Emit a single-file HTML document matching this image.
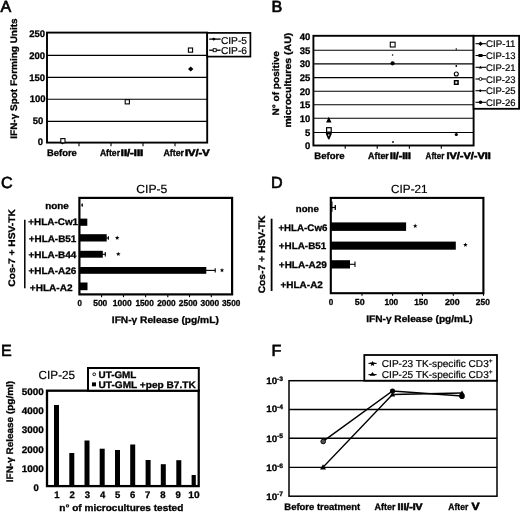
<!DOCTYPE html>
<html>
<head>
<meta charset="utf-8">
<title>Figure</title>
<style>
  html, body { margin: 0; padding: 0; background: #ffffff; }
  body { width: 520px; height: 513px; overflow: hidden; font-family: "Liberation Sans", sans-serif; }
  svg { will-change: transform; display: block; font-family: "Liberation Sans", sans-serif; text-rendering: geometricPrecision; }
  text { fill: #000; }
  .b { font-weight: bold; stroke: #000; stroke-width: 0.3px; }
  .r { stroke: #000; stroke-width: 0.2px; }
  .bs { font-weight: bold; }
  .bx { font-weight: bold; stroke: #000; stroke-width: 0.6px; }
  .pl { stroke: #000; stroke-width: 0.65px; }
</style>
</head>
<body>
<svg width="520" height="513" viewBox="0 0 520 513">
<rect x="0" y="0" width="520" height="513" fill="#fff"/>

<g id="pA">
<text class="pl" x="0.5" y="12.4" font-size="16.1">A</text>
<line x1="47" y1="55.4" x2="207" y2="55.4" stroke="#000" stroke-width="1.1"/>
<line x1="47" y1="77.4" x2="207" y2="77.4" stroke="#000" stroke-width="1.1"/>
<line x1="47" y1="99.3" x2="207" y2="99.3" stroke="#000" stroke-width="1.1"/>
<line x1="47" y1="121.4" x2="207" y2="121.4" stroke="#000" stroke-width="1.1"/>
<rect x="47" y="32.6" width="160.2" height="110.0" fill="none" stroke="#000" stroke-width="1.9"/>
<line x1="79" y1="143" x2="79" y2="146.2" stroke="#000" stroke-width="1.1"/>
<line x1="111" y1="143" x2="111" y2="146.2" stroke="#000" stroke-width="1.1"/>
<line x1="143" y1="143" x2="143" y2="146.2" stroke="#000" stroke-width="1.1"/>
<line x1="175" y1="143" x2="175" y2="146.2" stroke="#000" stroke-width="1.1"/>
<text class="b" x="45.10" y="36.80" font-size="9.5" text-anchor="end">250</text>
<text class="b" x="45.10" y="58.80" font-size="9.5" text-anchor="end">200</text>
<text class="b" x="45.10" y="80.80" font-size="9.5" text-anchor="end">150</text>
<text class="b" x="45.50" y="102.10" font-size="9.5" text-anchor="end">100</text>
<text class="b" x="43.40" y="124.10" font-size="9.5" text-anchor="end">50</text>
<text class="b" x="43.10" y="145.10" font-size="9.5" text-anchor="end">0</text>
<text class="b" font-size="9.5" textLength="120.30" lengthAdjust="spacingAndGlyphs" transform="translate(17.00,138.70) rotate(-90)">IFN-γ Spot Forming Units</text>
<text class="b" x="47.00" y="156.00" font-size="9.5" textLength="29.80" lengthAdjust="spacingAndGlyphs">Before</text>
<text class="b" x="99.90" y="156.00" font-size="9.5" textLength="20.10" lengthAdjust="spacingAndGlyphs">After</text>
<text class="bx" x="120.80" y="156.00" font-size="9.5" textLength="22.30" lengthAdjust="spacingAndGlyphs">II/-III</text>
<text class="b" x="163.40" y="156.00" font-size="9.5" textLength="20.60" lengthAdjust="spacingAndGlyphs">After</text>
<text class="bx" x="185.00" y="156.00" font-size="9.5" textLength="24.70" lengthAdjust="spacingAndGlyphs">IV/-V</text>
<path d="M62.5 139.8 l2.5 2.3 l-2.5 2.3 l-2.5 -2.3z" fill="#000"/>
<path d="M190.7 66.6 l2.7 2.5 l-2.7 2.5 l-2.7 -2.5z" fill="#000"/>
<rect x="60.8" y="138.6" width="4.2" height="4.2" fill="#fff" stroke="#000" stroke-width="1.1"/>
<rect x="125.2" y="99.7" width="4.2" height="4.2" fill="#fff" stroke="#000" stroke-width="1.1"/>
<rect x="188.4" y="48" width="4.2" height="4.2" fill="#fff" stroke="#000" stroke-width="1.1"/>
<rect x="207.2" y="32.9" width="43.2" height="23.7" fill="#fff" stroke="#000" stroke-width="1.7"/>
<line x1="209.2" y1="39.1" x2="220.6" y2="39.1" stroke="#000" stroke-width="1.3"/>
<path d="M213.8 37.4 l1.9 1.7 l-1.9 1.7 l-1.9 -1.7z" fill="#000"/>
<line x1="209.2" y1="50.2" x2="220.6" y2="50.2" stroke="#000" stroke-width="1.3"/>
<rect x="213.2" y="48.7" width="3" height="3" fill="#fff" stroke="#000" stroke-width="0.9"/>
<text class="r" x="220.90" y="43.80" font-size="10" textLength="26.10" lengthAdjust="spacingAndGlyphs">CIP-5</text>
<text class="r" x="220.90" y="54.10" font-size="10" textLength="26.10" lengthAdjust="spacingAndGlyphs">CIP-6</text>
</g>
<g id="pB">
<text class="pl" x="271.6" y="12.3" font-size="16.1">B</text>
<line x1="313.4" y1="50.2" x2="473.5" y2="50.2" stroke="#000" stroke-width="1.1"/>
<line x1="313.4" y1="63.9" x2="473.5" y2="63.9" stroke="#000" stroke-width="1.1"/>
<line x1="313.4" y1="77.6" x2="473.5" y2="77.6" stroke="#000" stroke-width="1.1"/>
<line x1="313.4" y1="91.2" x2="473.5" y2="91.2" stroke="#000" stroke-width="1.1"/>
<line x1="313.4" y1="104.8" x2="473.5" y2="104.8" stroke="#000" stroke-width="1.1"/>
<line x1="313.4" y1="118.3" x2="473.5" y2="118.3" stroke="#000" stroke-width="1.1"/>
<line x1="313.4" y1="132.5" x2="473.5" y2="132.5" stroke="#000" stroke-width="1.1"/>
<rect x="313.4" y="35.8" width="160.2" height="109.7" fill="none" stroke="#000" stroke-width="1.9"/>
<line x1="345.2" y1="145.5" x2="345.2" y2="148.7" stroke="#000" stroke-width="1.1"/>
<line x1="377.2" y1="145.5" x2="377.2" y2="148.7" stroke="#000" stroke-width="1.1"/>
<line x1="409.4" y1="145.5" x2="409.4" y2="148.7" stroke="#000" stroke-width="1.1"/>
<line x1="441.3" y1="145.5" x2="441.3" y2="148.7" stroke="#000" stroke-width="1.1"/>
<text class="b" x="310.40" y="40.00" font-size="9.5" text-anchor="end">40</text>
<text class="b" x="310.40" y="53.80" font-size="9.5" text-anchor="end">35</text>
<text class="b" x="310.40" y="67.30" font-size="9.5" text-anchor="end">30</text>
<text class="b" x="310.40" y="81.20" font-size="9.5" text-anchor="end">25</text>
<text class="b" x="310.40" y="94.70" font-size="9.5" text-anchor="end">20</text>
<text class="b" x="310.40" y="108.30" font-size="9.5" text-anchor="end">15</text>
<text class="b" x="310.40" y="121.80" font-size="9.5" text-anchor="end">10</text>
<text class="b" x="310.40" y="135.70" font-size="9.5" text-anchor="end">5</text>
<text class="b" x="310.40" y="149.20" font-size="9.5" text-anchor="end">0</text>
<text class="b" font-size="9.5" textLength="64.40" lengthAdjust="spacingAndGlyphs" transform="translate(278.60,115.50) rotate(-90)">N° of positive</text>
<text class="b" font-size="9.5" textLength="94.90" lengthAdjust="spacingAndGlyphs" transform="translate(291.30,127.60) rotate(-90)">microcultures (AU)</text>
<text class="b" x="314.30" y="159.40" font-size="9.5" textLength="30.30" lengthAdjust="spacingAndGlyphs">Before</text>
<text class="b" x="368.10" y="158.60" font-size="9.5" textLength="20.70" lengthAdjust="spacingAndGlyphs">After</text>
<text class="bx" x="390.10" y="158.60" font-size="9.5" textLength="20.70" lengthAdjust="spacingAndGlyphs">II/-III</text>
<text class="b" x="425.60" y="159.20" font-size="9.5" textLength="18.80" lengthAdjust="spacingAndGlyphs">After</text>
<text class="bx" x="446.40" y="159.20" font-size="9.5" textLength="44.40" lengthAdjust="spacingAndGlyphs">IV/-V/-VII</text>
<path d="M328.8 116.8 l2.7 5.6 h-5.4z" fill="#000"/>
<path d="M328.8 138.6 l-2.2 -5 h4.4z" fill="#fff" stroke="#000" stroke-width="1.6" stroke-linejoin="round"/>
<rect x="326.6" y="127.7" width="4.6" height="4.4" fill="#fff" stroke="#000" stroke-width="1.2"/>
<rect x="390.3" y="42.2" width="4.8" height="4.8" fill="#fff" stroke="#000" stroke-width="1.1"/>
<circle cx="392.6" cy="55" r="0.8" fill="#000"/>
<circle cx="392.6" cy="63.3" r="2.1" fill="#000"/>
<circle cx="393" cy="142" r="0.9" fill="#000"/>
<circle cx="456.3" cy="49" r="0.8" fill="#000"/>
<circle cx="456.3" cy="66" r="0.9" fill="#000"/>
<circle cx="456.3" cy="74" r="2" fill="#fff" stroke="#000" stroke-width="1.1"/>
<rect x="453.8" y="80" width="5" height="5" fill="#000"/>
<rect x="455.3" y="81.5" width="2" height="2" fill="#fff"/>
<circle cx="456.3" cy="134.5" r="1.6" fill="#000"/>
<rect x="473.6" y="35.8" width="45.5" height="73.0" fill="#fff" stroke="#000" stroke-width="1.8"/>
<line x1="475.5" y1="43.7" x2="486" y2="43.7" stroke="#000" stroke-width="1.1"/>
<line x1="475.5" y1="55.5" x2="486" y2="55.5" stroke="#000" stroke-width="1.1"/>
<line x1="475.5" y1="67.3" x2="486" y2="67.3" stroke="#000" stroke-width="1.1"/>
<line x1="475.5" y1="79" x2="486" y2="79" stroke="#000" stroke-width="1.1"/>
<line x1="475.5" y1="90.7" x2="486" y2="90.7" stroke="#000" stroke-width="1.1"/>
<line x1="475.5" y1="102.3" x2="486" y2="102.3" stroke="#000" stroke-width="1.1"/>
<path d="M480.5 41.5 l2.3 2.2 l-2.3 2.2 l-2.3 -2.2z" fill="#000"/>
<rect x="478.5" y="54" width="4" height="3" fill="#000"/>
<path d="M480.5 65.8 l1.6 2.6 h-3.2z" fill="#000"/>
<circle cx="480.5" cy="79" r="1.5" fill="#fff" stroke="#000" stroke-width="0.9"/>
<rect x="479.5" y="89.5" width="1.6" height="2.4" fill="#000"/>
<circle cx="480.5" cy="102.3" r="1.8" fill="#000"/>
<text class="r" x="486.00" y="47.20" font-size="9.6" textLength="29.50" lengthAdjust="spacingAndGlyphs">CIP-11</text>
<text class="r" x="486.00" y="59.00" font-size="9.6" textLength="29.50" lengthAdjust="spacingAndGlyphs">CIP-13</text>
<text class="r" x="486.00" y="70.80" font-size="9.6" textLength="29.50" lengthAdjust="spacingAndGlyphs">CIP-21</text>
<text class="r" x="486.00" y="82.50" font-size="9.6" textLength="29.50" lengthAdjust="spacingAndGlyphs">CIP-23</text>
<text class="r" x="486.00" y="94.20" font-size="9.6" textLength="29.50" lengthAdjust="spacingAndGlyphs">CIP-25</text>
<text class="r" x="486.00" y="105.80" font-size="9.6" textLength="29.50" lengthAdjust="spacingAndGlyphs">CIP-26</text>
</g>
<g id="pC">
<text class="pl" x="0.9" y="187.7" font-size="16.1">C</text>
<text class="r" x="136.20" y="193.40" font-size="11.8" textLength="31.20" lengthAdjust="spacingAndGlyphs">CIP-5</text>
<rect x="79.4" y="197.9" width="152.7" height="96.5" fill="none" stroke="#000" stroke-width="2.2"/>
<rect x="80" y="218.6" width="7.3" height="7.2" fill="#000"/>
<rect x="80" y="234.2" width="26.7" height="7.3" fill="#000"/>
<rect x="80" y="250.8" width="22.8" height="6.9" fill="#000"/>
<rect x="80" y="267.0" width="126.3" height="6.8" fill="#000"/>
<rect x="80" y="282.5" width="7.5" height="7.7" fill="#000"/>
<line x1="81" y1="205" x2="82.5" y2="205" stroke="#000" stroke-width="1.1"/>
<line x1="82.3" y1="203.5" x2="82.3" y2="206.8" stroke="#000" stroke-width="1.1"/>
<line x1="106" y1="238" x2="108.6" y2="238" stroke="#000" stroke-width="1.1"/>
<line x1="108.4" y1="236.2" x2="108.4" y2="239.8" stroke="#000" stroke-width="1.1"/>
<line x1="102" y1="254.3" x2="105.5" y2="254.3" stroke="#000" stroke-width="1.1"/>
<line x1="105.3" y1="252" x2="105.3" y2="256.6" stroke="#000" stroke-width="1.1"/>
<line x1="206" y1="270.4" x2="215.4" y2="270.4" stroke="#000" stroke-width="1.1"/>
<line x1="215.2" y1="268.2" x2="215.2" y2="272.4" stroke="#000" stroke-width="1.1"/>
<polygon points="117.20,235.50 117.79,237.09 119.48,237.16 118.15,238.21 118.61,239.84 117.20,238.90 115.79,239.84 116.25,238.21 114.92,237.16 116.61,237.09" fill="#000"/>
<polygon points="118.30,251.70 118.89,253.29 120.58,253.36 119.25,254.41 119.71,256.04 118.30,255.10 116.89,256.04 117.35,254.41 116.02,253.36 117.71,253.29" fill="#000"/>
<polygon points="222.00,267.90 222.59,269.49 224.28,269.56 222.95,270.61 223.41,272.24 222.00,271.30 220.59,272.24 221.05,270.61 219.72,269.56 221.41,269.49" fill="#000"/>
<line x1="101.6" y1="294.5" x2="101.6" y2="297.2" stroke="#000" stroke-width="1.1"/>
<line x1="123.5" y1="294.5" x2="123.5" y2="297.2" stroke="#000" stroke-width="1.1"/>
<line x1="145.6" y1="294.5" x2="145.6" y2="297.2" stroke="#000" stroke-width="1.1"/>
<line x1="167.8" y1="294.5" x2="167.8" y2="297.2" stroke="#000" stroke-width="1.1"/>
<line x1="189.5" y1="294.5" x2="189.5" y2="297.2" stroke="#000" stroke-width="1.1"/>
<line x1="211.3" y1="294.5" x2="211.3" y2="297.2" stroke="#000" stroke-width="1.1"/>
<text class="b" x="77.60" y="305.70" font-size="8.7" textLength="4.40" lengthAdjust="spacingAndGlyphs">0</text>
<text class="b" x="93.20" y="305.70" font-size="8.7" textLength="14.10" lengthAdjust="spacingAndGlyphs">500</text>
<text class="b" x="112.80" y="305.70" font-size="8.7" textLength="18.80" lengthAdjust="spacingAndGlyphs">1000</text>
<text class="b" x="135.40" y="305.70" font-size="8.7" textLength="18.40" lengthAdjust="spacingAndGlyphs">1500</text>
<text class="b" x="157.20" y="305.70" font-size="8.7" textLength="18.40" lengthAdjust="spacingAndGlyphs">2000</text>
<text class="b" x="178.80" y="305.70" font-size="8.7" textLength="18.70" lengthAdjust="spacingAndGlyphs">2500</text>
<text class="b" x="200.50" y="305.70" font-size="8.7" textLength="18.70" lengthAdjust="spacingAndGlyphs">3000</text>
<text class="b" x="222.00" y="305.70" font-size="8.7" textLength="18.30" lengthAdjust="spacingAndGlyphs">3500</text>
<text class="b" x="111.80" y="323.40" font-size="9.5" textLength="107.00" lengthAdjust="spacingAndGlyphs">IFN-γ Release (pg/mL)</text>
<text class="b" x="45.20" y="209.40" font-size="9.5" textLength="23.60" lengthAdjust="spacingAndGlyphs">none</text>
<text class="b" x="28.30" y="225.10" font-size="9.5" textLength="49.80" lengthAdjust="spacingAndGlyphs">+HLA-Cw1</text>
<text class="b" x="28.70" y="241.60" font-size="9.5" textLength="47.70" lengthAdjust="spacingAndGlyphs">+HLA-B51</text>
<text class="b" x="28.50" y="257.60" font-size="9.5" textLength="47.90" lengthAdjust="spacingAndGlyphs">+HLA-B44</text>
<text class="b" x="28.50" y="274.20" font-size="9.5" textLength="47.90" lengthAdjust="spacingAndGlyphs">+HLA-A26</text>
<text class="b" x="29.80" y="290.50" font-size="9.5" textLength="42.80" lengthAdjust="spacingAndGlyphs">+HLA-A2</text>
<line x1="24.8" y1="219.8" x2="24.8" y2="288.3" stroke="#000" stroke-width="1.5"/>
<text class="b" font-size="9.5" textLength="77.50" lengthAdjust="spacingAndGlyphs" transform="translate(15.20,286.70) rotate(-90)">Cos-7 + HSV-TK</text>
</g>
<g id="pD">
<text class="pl" x="270.9" y="187.7" font-size="16.1">D</text>
<text class="r" x="391.10" y="193.20" font-size="11.8" textLength="36.50" lengthAdjust="spacingAndGlyphs">CIP-21</text>
<rect x="330.8" y="197.9" width="152.6" height="95.3" fill="none" stroke="#000" stroke-width="2.1"/>
<rect x="330.5" y="222.4" width="75.6" height="8.5" fill="#000"/>
<rect x="330.5" y="241.6" width="125.3" height="8.1" fill="#000"/>
<rect x="330.5" y="260.2" width="19.5" height="8.3" fill="#000"/>
<rect x="331.4" y="201.5" width="1.1" height="10.3" fill="#000"/>
<line x1="331" y1="207.5" x2="335.6" y2="207.5" stroke="#000" stroke-width="1.2"/>
<line x1="335.3" y1="205.1" x2="335.3" y2="209.9" stroke="#000" stroke-width="1.3"/>
<line x1="350" y1="264.3" x2="355" y2="264.3" stroke="#000" stroke-width="1.1"/>
<line x1="355" y1="261.5" x2="355" y2="267" stroke="#000" stroke-width="1.1"/>
<polygon points="415.20,223.60 415.79,225.19 417.48,225.26 416.15,226.31 416.61,227.94 415.20,227.00 413.79,227.94 414.25,226.31 412.92,225.26 414.61,225.19" fill="#000"/>
<polygon points="465.40,242.50 465.99,244.09 467.68,244.16 466.35,245.21 466.81,246.84 465.40,245.90 463.99,246.84 464.45,245.21 463.12,244.16 464.81,244.09" fill="#000"/>
<line x1="362" y1="293" x2="362" y2="295.8" stroke="#000" stroke-width="1.1"/>
<line x1="392.6" y1="293" x2="392.6" y2="295.8" stroke="#000" stroke-width="1.1"/>
<line x1="422.4" y1="293" x2="422.4" y2="295.8" stroke="#000" stroke-width="1.1"/>
<line x1="453.3" y1="293" x2="453.3" y2="295.8" stroke="#000" stroke-width="1.1"/>
<line x1="483.5" y1="293" x2="483.5" y2="295.8" stroke="#000" stroke-width="1.1"/>
<text class="b" x="328.70" y="305.00" font-size="8.7" textLength="4.50" lengthAdjust="spacingAndGlyphs">0</text>
<text class="b" x="354.70" y="305.00" font-size="8.7" textLength="9.90" lengthAdjust="spacingAndGlyphs">50</text>
<text class="b" x="384.40" y="305.00" font-size="8.7" textLength="13.80" lengthAdjust="spacingAndGlyphs">100</text>
<text class="b" x="414.30" y="305.00" font-size="8.7" textLength="13.70" lengthAdjust="spacingAndGlyphs">150</text>
<text class="b" x="444.90" y="305.00" font-size="8.7" textLength="14.70" lengthAdjust="spacingAndGlyphs">200</text>
<text class="b" x="475.80" y="305.00" font-size="8.7" textLength="14.00" lengthAdjust="spacingAndGlyphs">250</text>
<text class="b" x="366.20" y="322.00" font-size="9.5" textLength="106.50" lengthAdjust="spacingAndGlyphs">IFN-γ Release (pg/mL)</text>
<text class="b" x="295.80" y="211.70" font-size="9.5" textLength="23.00" lengthAdjust="spacingAndGlyphs">none</text>
<text class="b" x="278.40" y="230.60" font-size="9.5" textLength="49.00" lengthAdjust="spacingAndGlyphs">+HLA-Cw6</text>
<text class="b" x="278.80" y="249.10" font-size="9.5" textLength="47.50" lengthAdjust="spacingAndGlyphs">+HLA-B51</text>
<text class="b" x="278.80" y="268.00" font-size="9.5" textLength="48.10" lengthAdjust="spacingAndGlyphs">+HLA-A29</text>
<text class="b" x="280.50" y="288.30" font-size="9.5" textLength="42.40" lengthAdjust="spacingAndGlyphs">+HLA-A2</text>
<line x1="271.6" y1="218.7" x2="271.6" y2="291" stroke="#000" stroke-width="1.8"/>
<text class="b" font-size="9.5" textLength="77.80" lengthAdjust="spacingAndGlyphs" transform="translate(264.90,293.30) rotate(-90)">Cos-7 + HSV-TK</text>
</g>
<g id="pE">
<text class="pl" x="0.9" y="355.8" font-size="16.1">E</text>
<text class="r" x="38.60" y="379.40" font-size="11.8" textLength="36.50" lengthAdjust="spacingAndGlyphs">CIP-25</text>
<rect x="47.0" y="390.7" width="151.7" height="95.4" fill="none" stroke="#000" stroke-width="2.3"/>
<rect x="54.0" y="405" width="5.0" height="81" fill="#000"/>
<rect x="69.3" y="453" width="5.0" height="33" fill="#000"/>
<rect x="84.5" y="440.5" width="5.0" height="45.5" fill="#000"/>
<rect x="99.7" y="448.7" width="5.0" height="37.30000000000001" fill="#000"/>
<rect x="115.0" y="450" width="5.0" height="36" fill="#000"/>
<rect x="130.2" y="444.5" width="5.0" height="41.5" fill="#000"/>
<rect x="145.6" y="460" width="5.0" height="26" fill="#000"/>
<rect x="160.8" y="464.2" width="5.0" height="21.80000000000001" fill="#000"/>
<rect x="176.3" y="460.2" width="5.0" height="25.80000000000001" fill="#000"/>
<rect x="191.6" y="475" width="4.2" height="11" fill="#000"/>
<rect x="88.0" y="368.0" width="110.8" height="22.7" fill="#fff" stroke="#000" stroke-width="2.0"/>
<circle cx="94.2" cy="374.3" r="1.4" fill="#fff" stroke="#000" stroke-width="0.9"/>
<rect x="92" y="382.4" width="4" height="3.9" fill="#000"/>
<text class="b" x="98.50" y="377.80" font-size="9.5" textLength="37.90" lengthAdjust="spacingAndGlyphs">UT-GML</text>
<text class="b" x="98.50" y="388.00" font-size="9.5" textLength="97.20" lengthAdjust="spacingAndGlyphs">UT-GML +pep B7.TK</text>
<text class="b" x="21.80" y="395.30" font-size="9.5" textLength="22.00" lengthAdjust="spacingAndGlyphs">5000</text>
<text class="b" x="21.80" y="413.80" font-size="9.5" textLength="22.00" lengthAdjust="spacingAndGlyphs">4000</text>
<text class="b" x="21.80" y="433.20" font-size="9.5" textLength="22.00" lengthAdjust="spacingAndGlyphs">3000</text>
<text class="b" x="21.80" y="452.90" font-size="9.5" textLength="22.00" lengthAdjust="spacingAndGlyphs">2000</text>
<text class="b" x="21.80" y="472.40" font-size="9.5" textLength="22.00" lengthAdjust="spacingAndGlyphs">1000</text>
<text class="b" x="36.20" y="491.20" font-size="9.5" text-anchor="middle">0</text>
<text class="b" x="57.00" y="497.60" font-size="9.5" text-anchor="middle">1</text>
<text class="b" x="72.20" y="497.60" font-size="9.5" text-anchor="middle">2</text>
<text class="b" x="87.40" y="497.60" font-size="9.5" text-anchor="middle">3</text>
<text class="b" x="102.60" y="497.60" font-size="9.5" text-anchor="middle">4</text>
<text class="b" x="117.60" y="497.60" font-size="9.5" text-anchor="middle">5</text>
<text class="b" x="132.60" y="497.60" font-size="9.5" text-anchor="middle">6</text>
<text class="b" x="147.60" y="497.60" font-size="9.5" text-anchor="middle">7</text>
<text class="b" x="163.00" y="497.60" font-size="9.5" text-anchor="middle">8</text>
<text class="b" x="178.20" y="497.60" font-size="9.5" text-anchor="middle">9</text>
<text class="b" x="188.30" y="497.60" font-size="9.5" textLength="11.30" lengthAdjust="spacingAndGlyphs">10</text>
<text class="b" x="59.30" y="511.20" font-size="9.5" textLength="124.00" lengthAdjust="spacingAndGlyphs">n° of microcultures tested</text>
<text class="b" font-size="9.5" textLength="101.30" lengthAdjust="spacingAndGlyphs" transform="translate(12.80,482.20) rotate(-90)">IFN-γ Release (pg/ml)</text>
</g>
<g id="pF">
<text class="pl" x="271.5" y="356" font-size="16.1">F</text>
<line x1="289" y1="409.5" x2="497" y2="409.5" stroke="#000" stroke-width="1.35"/>
<line x1="289" y1="438.2" x2="497" y2="438.2" stroke="#000" stroke-width="1.35"/>
<line x1="289" y1="467.3" x2="497" y2="467.3" stroke="#000" stroke-width="1.35"/>
<rect x="289" y="380.7" width="208" height="115.5" fill="none" stroke="#000" stroke-width="1.5"/>
<rect x="364.3" y="355" width="132.7" height="25.7" fill="#fff" stroke="#000" stroke-width="1.8"/>
<polyline points="323,441.3 392.5,391 462,396" fill="none" stroke="#000" stroke-width="1.45"/>
<polyline points="323,467.3 392.5,394.5 462,393" fill="none" stroke="#000" stroke-width="1.3"/>
<circle cx="323.2" cy="441.5" r="2.3" fill="#555" stroke="#000" stroke-width="1"/>
<circle cx="392.5" cy="391" r="2.6" fill="#000"/>
<circle cx="462" cy="396.3" r="2.8" fill="#000"/>
<path d="M323 464.3 l3 5.2 h-6z" fill="#000"/>
<path d="M392.5 392 l2.7 4.4 h-5.4z" fill="#000"/>
<path d="M462 390.6 l2.7 4.4 h-5.4z" fill="#000"/>
<line x1="368.5" y1="363.4" x2="376.6" y2="363.4" stroke="#000" stroke-width="1.1"/>
<path d="M372.5 360.9 l0.8 1.7 l1.9 0.2 l-1.4 1.3 l0.4 1.9 l-1.7 -1 l-1.7 1 l0.4 -1.9 l-1.4 -1.3 l1.9 -0.2z" fill="#000"/>
<line x1="368.5" y1="374.6" x2="376.6" y2="374.6" stroke="#000" stroke-width="1.1"/>
<path d="M372.5 372 l2.8 3.7 h-5.6z" fill="#000"/>
<text class="r" x="381.80" y="366.90" font-size="10" textLength="110.80" lengthAdjust="spacingAndGlyphs">CIP-23 TK-specific CD3<tspan font-size="6.5" dy="-3.5">+</tspan></text>
<text class="r" x="381.80" y="377.60" font-size="10" textLength="110.80" lengthAdjust="spacingAndGlyphs">CIP-25 TK-specific CD3<tspan font-size="6.5" dy="-3.5">+</tspan></text>
<text class="b" x="266.20" y="384.30" font-size="9.4" textLength="16.90" lengthAdjust="spacingAndGlyphs">10<tspan font-size="6.4" dy="-3.6">-3</tspan></text>
<text class="b" x="266.20" y="412.30" font-size="9.4" textLength="16.90" lengthAdjust="spacingAndGlyphs">10<tspan font-size="6.4" dy="-3.6">-4</tspan></text>
<text class="b" x="266.20" y="441.60" font-size="9.4" textLength="16.90" lengthAdjust="spacingAndGlyphs">10<tspan font-size="6.4" dy="-3.6">-5</tspan></text>
<text class="b" x="266.20" y="471.20" font-size="9.4" textLength="16.90" lengthAdjust="spacingAndGlyphs">10<tspan font-size="6.4" dy="-3.6">-6</tspan></text>
<text class="b" x="266.20" y="500.00" font-size="9.4" textLength="16.90" lengthAdjust="spacingAndGlyphs">10<tspan font-size="6.4" dy="-3.6">-7</tspan></text>
<text class="b" x="284.30" y="509.80" font-size="9.5" textLength="75.80" lengthAdjust="spacingAndGlyphs">Before treatment</text>
<text class="b" x="374.50" y="509.80" font-size="9.5" textLength="20.90" lengthAdjust="spacingAndGlyphs">After</text>
<text class="bx" x="397.60" y="509.80" font-size="9.5" textLength="25.00" lengthAdjust="spacingAndGlyphs">III/-IV</text>
<text class="b" x="448.30" y="509.80" font-size="9.5" textLength="19.90" lengthAdjust="spacingAndGlyphs">After</text>
<text class="bx" x="471.60" y="509.80" font-size="10.5" textLength="8.10" lengthAdjust="spacingAndGlyphs">V</text>
</g>
</svg>
</body>
</html>
